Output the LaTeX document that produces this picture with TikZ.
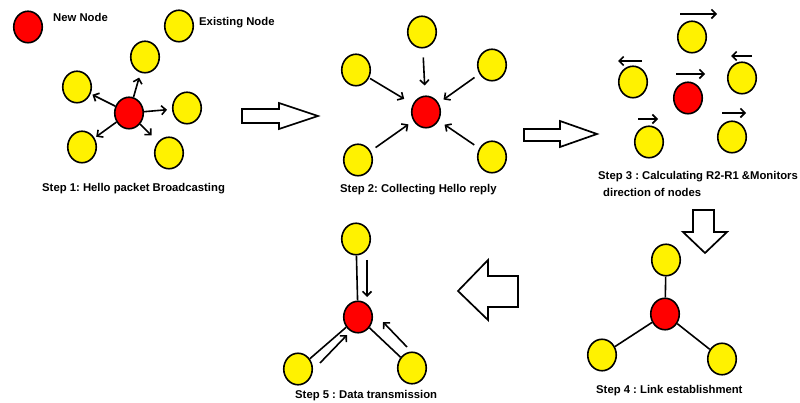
\documentclass[tikz,border=0pt]{standalone}
\usepackage{fontspec}
\setmainfont{Liberation Sans}
\usetikzlibrary{shapes.geometric,arrows.meta,calc}
\frenchspacing
\begin{document}
\begin{tikzpicture}[x=1pt,y=-1pt,
  nd/.style={ellipse, draw=black, line width=1.6pt, minimum width=28.5pt, minimum height=31.5pt, inner sep=0pt},
  newn/.style={nd, fill=red},
  oldn/.style={nd, fill=yellow},
  arr/.style={line width=1.6pt, -{Straight Barb[length=4.5pt,width=9pt]}},
  link/.style={line width=1.6pt},
  hollow/.style={draw=black, line width=1.7pt, fill=white, line join=miter},
  captxt/.style={anchor=base west, inner sep=0pt, font=\bfseries\fontsize{11.3}{13}\selectfont}
]
\useasboundingbox (0,0) rectangle (800,403);

% legend
\node[newn] (legnew) at (28,27) {};
\node[captxt] (legnewt) at (53,22) {New Node};
\node[oldn] (legold) at (179,26) {};
\node[captxt] (legoldt) at (199,26) {Existing Node};

% step 1
\node[newn] (r1) at (129,113) {};
\node[oldn] (a1) at (145,57) {};
\node[oldn] (b1) at (77,87) {};
\node[oldn] (c1) at (187,108) {};
\node[oldn] (d1) at (82,147) {};
\node[oldn] (e1) at (169,153) {};
\draw[arr, shorten >=5pt] (r1) -- (a1);
\draw[arr, shorten >=2pt] (r1) -- (b1);
\draw[arr, shorten >=5pt] (r1) -- (c1);
\draw[arr, shorten >=2pt] (r1) -- (d1);
\draw[arr, shorten >=9pt] (r1) -- (e1);
\node[captxt] (cap1) at (42,192) {Step 1: Hello packet Broadcasting};

\draw[hollow] (242,109) -- (279,109) -- (279,103) -- (318,116) -- (279,129) -- (279,123) -- (242,123) -- cycle;

% step 2
\node[newn] (r2) at (426,112) {};
\node[oldn] (a2) at (422,32) {};
\node[oldn] (b2) at (356,70) {};
\node[oldn] (c2) at (492,65) {};
\node[oldn] (d2) at (358,160) {};
\node[oldn] (e2) at (492,157) {};
\draw[arr, shorten <=9pt, shorten >=10pt] (a2) -- (r2);
\draw[arr, shorten <=1pt, shorten >=10pt] (b2) -- (r2);
\draw[arr, shorten <=6pt, shorten >=6pt] (c2) -- (r2);
\draw[arr, shorten <=6pt, shorten >=6pt] (d2) -- (r2);
\draw[arr, shorten <=6pt, shorten >=7pt] (e2) -- (r2);
\node[captxt] (cap2) at (340,193) {Step 2: Collecting Hello reply};

\draw[hollow] (524,129) -- (560,129) -- (560,121) -- (597,134) -- (560,147) -- (560,141) -- (524,141) -- cycle;

% step 3
\node[newn] (r3) at (688,98) {};
\node[oldn] (a3) at (692,37) {};
\node[oldn] (b3) at (633,82) {};
\node[oldn] (c3) at (742,78) {};
\node[oldn] (d3) at (649,142) {};
\node[oldn] (e3) at (732,137) {};
\draw[arr] ($(a3)+(-12,-23)$) -- ($(a3)+(25,-23)$);
\draw[arr] ($(b3)+(9,-21)$) -- ($(b3)+(-15,-21)$);
\draw[arr] ($(r3)+(-12,-24)$) -- ($(r3)+(17,-24)$);
\draw[arr] ($(c3)+(10,-22)$) -- ($(c3)+(-11,-22)$);
\draw[arr] ($(d3)+(-11,-23)$) -- ($(d3)+(9,-23)$);
\draw[arr] ($(e3)+(-10,-24)$) -- ($(e3)+(14,-24)$);
\node[captxt] (cap3a) at (598,179.5) {Step 3 : Calculating R2-R1 \&Monitors};
\node[captxt] (cap3b) at (603,197) {direction of nodes};

\draw[hollow] (693,210) -- (714,210) -- (714,232) -- (727,232) -- (705,253) -- (683,232) -- (693,232) -- cycle;

% step 4
\node[newn] (r4) at (665,314) {};
\node[oldn] (a4) at (666,260) {};
\node[oldn] (b4) at (602,355) {};
\node[oldn] (c4) at (722,359) {};
\draw[link] (r4) -- (a4);
\draw[link] (r4) -- (b4);
\draw[link] (r4) -- (c4);
\node[captxt] (cap4) at (596,393) {Step 4 : Link establishment};

\draw[hollow] (518,276) -- (518,307) -- (488,307) -- (488,320) -- (458,291) -- (488,260) -- (488,276) -- cycle;

% step 5
\node[newn] (r5) at (358,317) {};
\node[oldn] (a5) at (356,239) {};
\node[oldn] (b5) at (298,369) {};
\node[oldn] (c5) at (412,368) {};
\draw[link] (r5) -- (a5);
\draw[link] (r5) -- (b5);
\draw[link] (r5) -- (c5);
\draw[arr] ($(a5)+(11,21)$) -- ($(r5)+(9,-20)$);
\draw[arr] ($(b5)+(22,-6)$) -- ($(r5)+(-11,18)$);
\draw[arr] ($(c5)+(-5,-21)$) -- ($(r5)+(25,5)$);
\node[captxt] (cap5) at (295,398) {Step 5 : Data transmission};
\end{tikzpicture}
\end{document}
